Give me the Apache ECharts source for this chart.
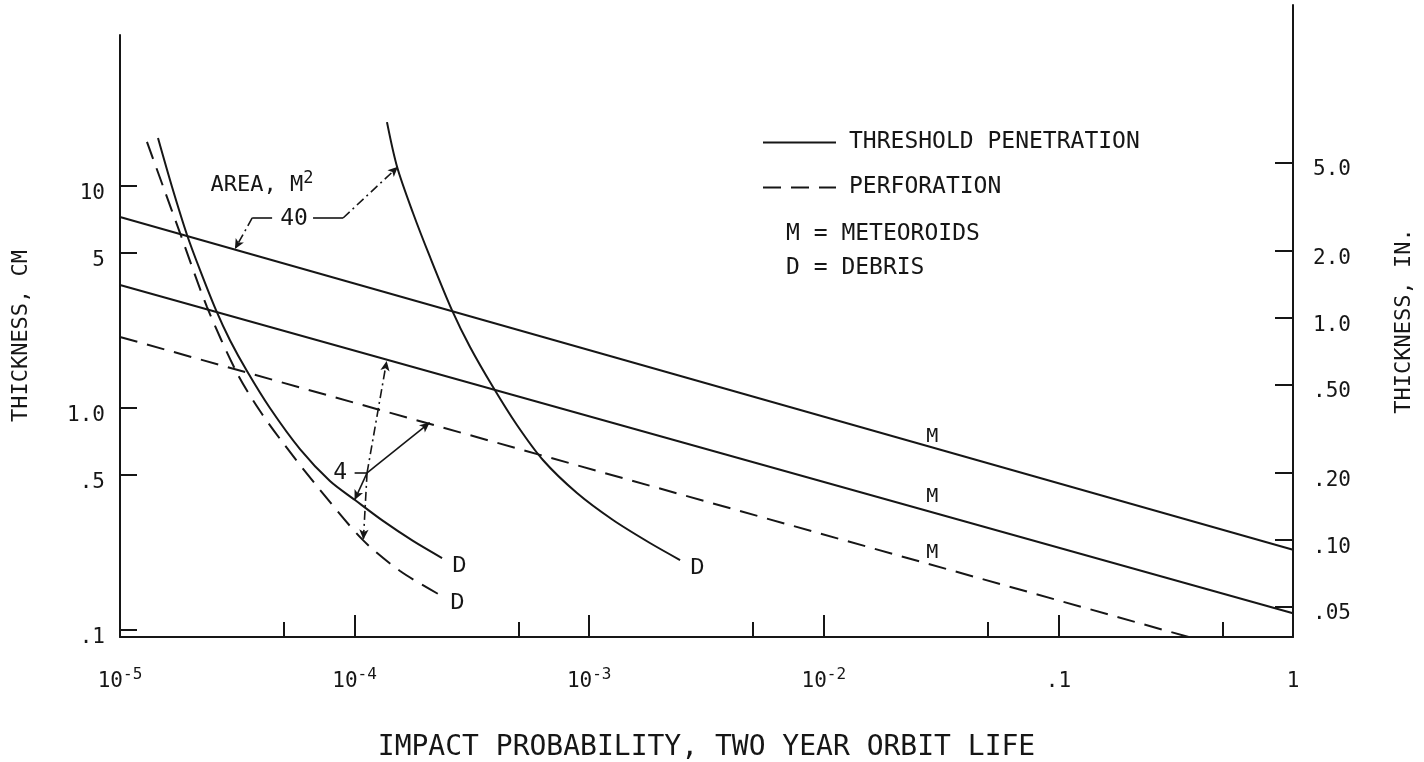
<!DOCTYPE html>
<html><head><meta charset="utf-8">
<script src="https://cdn.jsdelivr.net/npm/echarts@6/dist/echarts.min.js"></script>
<style>html,body{margin:0;padding:0;background:#fff}#c{width:1424px;height:762px}</style>
</head><body><div id="c"></div>
<script>
const FONT = 'DejaVu Sans Mono';
const INK = '#161616';

// ---- axis ticks / labels ----
const xMajorTicks = [1e-5, 1e-4, 1e-3, 1e-2, 0.1, 1];
const xMajorLabels = ['{b|10}{s|-5}', '{b|10}{s|-4}', '{b|10}{s|-3}', '{b|10}{s|-2}', '{b|.1}', '{b|1}'];
const xMinorTicks = [5e-5, 5e-4, 5e-3, 0.05, 0.5];
const cmTicks = [0.1, 0.5, 1, 5, 10];
const cmLabels = ['.1', '.5', '1.0', '5', '10'];
const inTicks = [0.05, 0.1, 0.2, 0.5, 1, 2, 5];
const inLabels = ['.05', '.10', '.20', '.50', '1.0', '2.0', '5.0'];
const cmRange = [0.093, 47.9];
const inRange = [0.0366, 25.7];

// ---- series: [impact probability, thickness cm] ----
const meteor40Threshold = [[1e-5, 7.25], [1, 0.23]];
const meteor4Threshold = [[1e-5, 3.58], [1, 0.119]];
const meteor4Perforation = [[1e-5, 2.09], [0.45, 0.087]];

const debris4Threshold = [
  [1.452e-5, 16.45], [1.667e-5, 9.90], [1.931e-5, 6.02], [2.194e-5, 4.18], [2.566e-5, 2.76],
  [2.943e-5, 2.02], [3.477e-5, 1.468], [4.356e-5, 1.00], [5.85e-5, 0.653], [7.85e-5, 0.469],
  [1.004e-4, 0.385], [1.322e-4, 0.310], [1.774e-4, 0.252], [2.36e-4, 0.211]
];
const debris4Perforation = [
  [1.303e-5, 15.8], [1.524e-5, 10.0], [1.803e-5, 6.14], [2.350e-5, 2.85], [3.153e-5, 1.438],
  [3.953e-5, 0.969], [4.955e-5, 0.696], [7.13e-5, 0.427], [1.086e-4, 0.254], [1.563e-4, 0.1844],
  [2.312e-4, 0.1438]
];
const debris40Threshold = [
  [1.374e-4, 19.4], [1.518e-4, 12.18], [1.774e-4, 7.56], [2.096e-4, 4.79], [2.60e-4, 2.76],
  [3.105e-4, 1.883], [3.89e-4, 1.243], [4.92e-4, 0.838], [6.35e-4, 0.583], [8.87e-4, 0.414],
  [1.263e-3, 0.313], [1.815e-3, 0.2466], [2.44e-3, 0.2067]
];

// ---- annotations (data coordinates) ----
const mLabelPoints = [[0.029, 0.74], [0.029, 0.397], [0.029, 0.222]];
const areaLabel = [2.42e-5, 10.1];
const label40 = [5.52e-5, 7.10];
const label4 = [8.67e-5, 0.51];
// [from, to, style, arrow]
const leaders = [
  [[4.45e-5, 7.18], [3.66e-5, 7.18], 'solid', false],
  [[3.66e-5, 7.18], [3.09e-5, 5.2], 'dashdot', true],
  [[6.65e-5, 7.18], [8.93e-5, 7.18], 'solid', false],
  [[8.93e-5, 7.18], [1.53e-4, 12.2], 'dashdot', true],
  [[1.00e-4, 0.51], [1.13e-4, 0.51], 'solid', false],
  [[1.13e-4, 0.51], [1.37e-4, 1.63], 'dashdot', true],
  [[1.13e-4, 0.51], [2.09e-4, 0.86], 'solid', true],
  [[1.13e-4, 0.51], [1.0e-4, 0.385], 'solid', true],
  [[1.13e-4, 0.51], [1.09e-4, 0.256], 'dashdot', true]
];

const DASH = [18, 10];
const DASHDOT = [9, 4, 2, 4];

function pick(ticks, labels, v) {
  let best = 0, bd = Infinity;
  ticks.forEach((t, i) => { const d = Math.abs(Math.log10(t) - Math.log10(v)); if (d < bd) { bd = d; best = i; } });
  return labels[best];
}

const chart = echarts.init(document.getElementById('c'), null, { renderer: 'canvas' });

function lineSeries(name, data, dashed, endD) {
  return {
    type: 'line', name, data, xAxisIndex: 0, yAxisIndex: 0,
    symbol: 'none', smooth: endD ? 0.3 : false, silent: true, clip: true,
    lineStyle: { color: INK, width: 2, type: dashed ? DASH : 'solid' },
    itemStyle: { color: INK },
    endLabel: endD ? {
      show: true, formatter: 'D', color: INK, fontFamily: 'Liberation Mono', fontSize: 24,
      offset: [2, 8]
    } : undefined,
    z: 3
  };
}

const txt = (extra) => Object.assign({ fontFamily: FONT, color: INK }, extra);

const option = {
  backgroundColor: '#ffffff',
  animation: false,
  grid: [
    { left: 120, right: 131, top: 35, bottom: 125, outerBoundsMode: 'none', containLabel: false },
    { left: 120, right: 131, top: 5, bottom: 125, outerBoundsMode: 'none', containLabel: false }
  ],
  legend: {
    orient: 'vertical', left: 762, top: 131, padding: 0, itemWidth: 73, itemHeight: 14, itemGap: 22,
    selectedMode: false,
    data: ['THRESHOLD PENETRATION', 'PERFORATION'],
    itemStyle: { opacity: 0 },
    textStyle: txt({ fontSize: 23, padding: [0, 0, 0, 8] })
  },
  graphic: [
    { type: 'text', left: 786, top: 223, style: txt({ text: 'M = METEOROIDS', fontSize: 23, fill: INK }) },
    { type: 'text', left: 786, top: 257, style: txt({ text: 'D = DEBRIS', fontSize: 23, fill: INK }) }
  ],
  xAxis: [
    {
      type: 'log', gridIndex: 0, min: 1e-5, max: 1,
      name: 'IMPACT PROBABILITY, TWO YEAR ORBIT LIFE', nameLocation: 'middle', nameGap: 97,
      nameTextStyle: txt({ fontSize: 28 }),
      axisLine: { show: true, onZero: false, lineStyle: { color: INK, width: 2 } },
      axisTick: { show: true, inside: true, length: 22, customValues: xMajorTicks, lineStyle: { color: INK, width: 2 } },
      axisLabel: {
        show: true, customValues: xMajorTicks, margin: 30, showMinLabel: true, showMaxLabel: true,
        formatter: (v) => pick(xMajorTicks, xMajorLabels, v),
        rich: {
          b: txt({ fontSize: 21, lineHeight: 30 }),
          s: txt({ fontSize: 16, lineHeight: 16, verticalAlign: 'top' })
        }
      },
      splitLine: { show: false }, minorTick: { show: false }
    },
    {
      type: 'log', gridIndex: 0, min: 1e-5, max: 1, position: 'bottom',
      axisLine: { show: false, onZero: false },
      axisTick: { show: true, inside: true, length: 15, customValues: xMinorTicks, lineStyle: { color: INK, width: 2 } },
      axisLabel: { show: false }, splitLine: { show: false }
    },
    { type: 'value', gridIndex: 1, show: false, min: 1, max: 2, axisLine: { onZero: false } }
  ],
  yAxis: [
    {
      type: 'log', gridIndex: 0, min: cmRange[0], max: cmRange[1], position: 'left',
      name: 'THICKNESS, CM', nameLocation: 'middle', nameGap: 88,
      nameTextStyle: txt({ fontSize: 22 }),
      axisLine: { show: true, onZero: false, lineStyle: { color: INK, width: 2 } },
      axisTick: { show: true, inside: true, length: 17, customValues: cmTicks, lineStyle: { color: INK, width: 2 } },
      axisLabel: {
        show: true, customValues: cmTicks, margin: 15, showMinLabel: true, showMaxLabel: true,
        verticalAlign: 'top', lineHeight: 16,
        formatter: (v) => pick(cmTicks, cmLabels, v), ...txt({ fontSize: 21 })
      },
      splitLine: { show: false }
    },
    {
      type: 'log', gridIndex: 1, min: inRange[0], max: inRange[1], position: 'right',
      name: 'THICKNESS, IN.', nameLocation: 'middle', nameGap: 100,
      nameTextStyle: txt({ fontSize: 22 }),
      axisLine: { show: true, onZero: false, lineStyle: { color: INK, width: 2 } },
      axisTick: { show: true, inside: true, length: 18, customValues: inTicks, lineStyle: { color: INK, width: 2 } },
      axisLabel: {
        show: true, customValues: inTicks, margin: 20, showMinLabel: true, showMaxLabel: true,
        verticalAlign: 'top', lineHeight: 14,
        formatter: (v) => pick(inTicks, inLabels, v), ...txt({ fontSize: 21 })
      },
      splitLine: { show: false }
    }
  ],
  series: [
    lineSeries('THRESHOLD PENETRATION', meteor40Threshold, false, false),
    lineSeries('THRESHOLD PENETRATION', meteor4Threshold, false, false),
    lineSeries('PERFORATION', meteor4Perforation, true, false),
    lineSeries('THRESHOLD PENETRATION', debris4Threshold, false, true),
    lineSeries('PERFORATION', debris4Perforation, true, true),
    lineSeries('THRESHOLD PENETRATION', debris40Threshold, false, true),
    {
      type: 'line', name: 'annotations', data: [], xAxisIndex: 0, yAxisIndex: 0, silent: true,
      markLine: {
        silent: true, animation: false, precision: 10,
        label: { show: false },
        data: leaders.map(([a, b, style, arrow]) => [
          { coord: a, symbol: 'none', lineStyle: { color: INK, width: 1.6, type: style === 'dashdot' ? DASHDOT : 'solid' } },
          { coord: b, symbol: arrow ? 'arrow' : 'none', symbolSize: [7, 10] }
        ])
      },
      markPoint: {
        silent: true, animation: false, symbol: 'circle', symbolSize: 1,
        itemStyle: { color: 'rgba(0,0,0,0)' },
        data: [
          ...mLabelPoints.map(p => ({ coord: p, label: { show: true, formatter: 'M', position: 'inside', ...txt({ fontSize: 20 }) } })),
          { coord: areaLabel, label: { show: true, position: 'right', distance: 0, formatter: '{a|AREA, M}{s|2}',
            rich: { a: txt({ fontSize: 22, lineHeight: 30 }), s: txt({ fontSize: 17, lineHeight: 17, verticalAlign: 'top' }) } } },
          { coord: label40, label: { show: true, position: 'inside', formatter: '40', ...txt({ fontSize: 23 }) } },
          { coord: label4, label: { show: true, position: 'inside', formatter: '4', ...txt({ fontSize: 23 }) } }
        ]
      }
    }
  ]
};
chart.setOption(option);
</script>
</body></html>
